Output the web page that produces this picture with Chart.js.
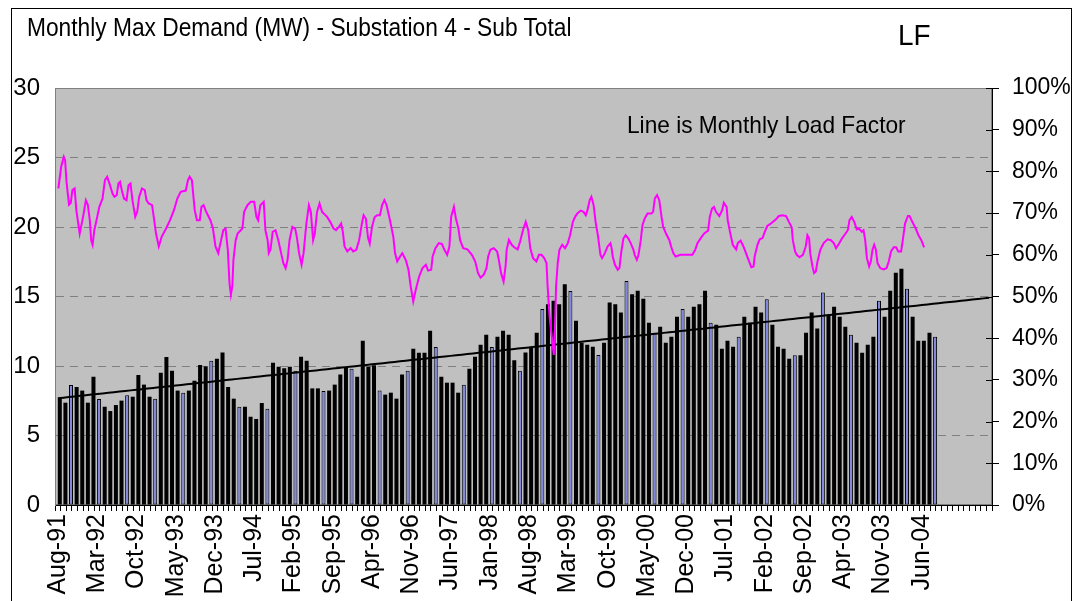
<!DOCTYPE html>
<html lang="en">
<head>
<meta charset="UTF-8">
<title>Monthly Max Demand (MW) - Substation 4 - Sub Total</title>
<script src="https://cdn.jsdelivr.net/npm/chart.js@4"></script>
<style>
  * { margin: 0; padding: 0; box-sizing: border-box; }
  html, body { width: 1075px; height: 601px; overflow: hidden; background: #fff; }
  .wrap { position: relative; width: 1075px; height: 601px; }
  canvas { position: absolute; left: 0; top: 0; }
  .frame {
    position: absolute; left: 11px; top: 8px; width: 1061px; height: 640px;
    border: 1px solid #000;
  }
  .txt {
    position: absolute; color: #000; white-space: nowrap; transform-origin: 0 0;
    font-family: 'Liberation Sans', Arial, sans-serif;
  }
  .title { left: 27px; top: 15px; font-size: 25px; line-height: 25px; transform: scaleX(0.91); }
  .lf { left: 898px; top: 20px; font-size: 30px; line-height: 30px; transform: scaleX(0.93); }
  .note { left: 627px; top: 113px; font-size: 24px; line-height: 24px; transform: scaleX(0.945); }
</style>
</head>
<body>
<div class="wrap">
  <canvas id="chart" width="1075" height="601"></canvas>
  <div class="frame"></div>
  <div class="txt title">Monthly Max Demand (MW) - Substation 4 - Sub Total</div>
  <div class="txt lf">LF</div>
  <div class="txt note">Line is Monthly Load Factor</div>
</div>
<script>
// months with data (Aug-91 .. Aug-04)
const months = [
  'Aug-91','Sep-91','Oct-91','Nov-91','Dec-91',
  'Jan-92','Feb-92','Mar-92','Apr-92','May-92','Jun-92','Jul-92','Aug-92','Sep-92','Oct-92','Nov-92','Dec-92',
  'Jan-93','Feb-93','Mar-93','Apr-93','May-93','Jun-93','Jul-93','Aug-93','Sep-93','Oct-93','Nov-93','Dec-93',
  'Jan-94','Feb-94','Mar-94','Apr-94','May-94','Jun-94','Jul-94','Aug-94','Sep-94','Oct-94','Nov-94','Dec-94',
  'Jan-95','Feb-95','Mar-95','Apr-95','May-95','Jun-95','Jul-95','Aug-95','Sep-95','Oct-95','Nov-95','Dec-95',
  'Jan-96','Feb-96','Mar-96','Apr-96','May-96','Jun-96','Jul-96','Aug-96','Sep-96','Oct-96','Nov-96','Dec-96',
  'Jan-97','Feb-97','Mar-97','Apr-97','May-97','Jun-97','Jul-97','Aug-97','Sep-97','Oct-97','Nov-97','Dec-97',
  'Jan-98','Feb-98','Mar-98','Apr-98','May-98','Jun-98','Jul-98','Aug-98','Sep-98','Oct-98','Nov-98','Dec-98',
  'Jan-99','Feb-99','Mar-99','Apr-99','May-99','Jun-99','Jul-99','Aug-99','Sep-99','Oct-99','Nov-99','Dec-99',
  'Jan-00','Feb-00','Mar-00','Apr-00','May-00','Jun-00','Jul-00','Aug-00','Sep-00','Oct-00','Nov-00','Dec-00',
  'Jan-01','Feb-01','Mar-01','Apr-01','May-01','Jun-01','Jul-01','Aug-01','Sep-01','Oct-01','Nov-01','Dec-01',
  'Jan-02','Feb-02','Mar-02','Apr-02','May-02','Jun-02','Jul-02','Aug-02','Sep-02','Oct-02','Nov-02','Dec-02',
  'Jan-03','Feb-03','Mar-03','Apr-03','May-03','Jun-03','Jul-03','Aug-03','Sep-03','Oct-03','Nov-03','Dec-03',
  'Jan-04','Feb-04','Mar-04','Apr-04','May-04','Jun-04','Jul-04','Aug-04'
];
// empty slots the trend line is forecast into
const forecastSlots = 10;

// monthly max demand, MW
const demandMW = [
  7.65, 7.36, 8.63, 8.49, 8.23, 7.36, 9.23, 7.63, 7.07, 6.76, 7.19, 7.51, 7.89,
  7.79, 9.35, 8.66, 7.79, 7.65, 9.52, 10.65, 9.66, 8.23, 8.08, 8.23, 8.94, 10.07,
  9.98, 10.38, 10.53, 10.98, 8.49, 7.65, 7.07, 7.07, 6.35, 6.19, 7.34, 6.93, 10.24,
  9.95, 9.83, 9.95, 9.66, 10.67, 10.38, 8.39, 8.39, 8.20, 8.23, 8.66, 9.38, 9.95,
  9.81, 9.23, 11.82, 9.95, 10.05, 8.23, 7.94, 8.08, 7.65, 9.38, 9.66, 11.25, 10.96,
  10.96, 12.54, 11.37, 9.23, 8.80, 8.80, 8.08, 8.66, 9.81, 10.67, 11.53, 12.25, 11.37, 12.11,
  12.54, 12.25, 10.41, 9.66, 10.98, 11.39, 12.40, 14.10, 14.44, 14.70, 14.44, 15.88, 15.40,
  13.26, 11.68, 11.53, 11.39, 10.79, 11.68, 14.56, 14.44, 13.84, 16.12, 15.16, 15.42, 14.84,
  13.12, 12.40, 12.83, 11.68, 12.11, 13.55, 14.10, 13.55, 14.27, 14.44, 15.42, 13.12, 12.97,
  11.25, 11.82, 11.39, 12.11, 13.55, 13.12, 14.27, 13.84, 14.80, 12.97, 11.39, 11.25, 10.53,
  10.77, 10.77, 12.40, 13.84, 12.69, 15.28, 13.69, 14.27, 13.55, 12.83, 12.25, 11.68, 10.96,
  11.53, 12.11, 14.70, 13.55, 15.42, 16.71, 17.00, 15.56, 13.55, 11.82, 11.82, 12.40, 12.11
];

// load factor line: [month index from Aug-91, percent]
const loadFactor = [
  [0.1,75.9],[0.6,81.1],[1.07,83.5],[1.3,82.7],[1.55,77.5],[2.0,72.0],[2.3,72.4],[2.6,75.5],[3.0,75.9],
  [3.3,70.7],[3.9,65.1],[4.5,69.1],[5.0,73.1],[5.35,72.0],[5.7,68.3],[5.95,63.5],[6.2,62.4],[6.5,65.9],
  [6.9,68.3],[7.4,71.5],[7.97,73.5],[8.4,77.9],[8.8,78.7],[9.3,76.7],[9.75,74.7],[10.1,73.9],[10.5,74.3],
  [10.8,77.1],[11.1,77.5],[11.4,75.5],[11.8,73.5],[12.25,73.1],[12.6,76.7],[12.96,77.1],[13.3,73.1],
  [13.8,69.1],[14.15,70.3],[14.5,73.9],[15.0,75.9],[15.5,75.5],[15.8,73.1],[16.2,72.3],[16.8,71.9],
  [17.1,69.1],[17.5,65.1],[18.0,62.0],[18.5,64.3],[19.3,66.3],[20.0,68.3],[20.7,70.7],[21.3,73.5],
  [21.9,75.1],[22.8,75.4],[23.2,77.9],[23.5,78.7],[23.9,77.9],[24.4,70.7],[24.8,68.3],[25.3,68.3],
  [25.6,71.5],[25.98,71.9],[26.45,70.3],[27.2,68.3],[27.65,66.3],[28.1,62.0],[28.6,60.4],[29.1,63.5],
  [29.5,65.9],[29.9,66.3],[30.3,61.2],[30.6,53.2],[30.85,50.4],[31.1,52.4],[31.3,58.8],[31.7,63.5],
  [32.05,65.1],[32.9,66.3],[33.2,70.3],[33.8,71.9],[34.4,72.7],[35.0,72.7],[35.4,69.1],[35.7,68.3],
  [36.1,71.9],[36.7,72.7],[37.0,65.9],[37.4,63.5],[37.6,60.4],[37.9,61.2],[38.3,65.5],[38.8,65.9],
  [39.3,63.5],[39.8,60.4],[40.2,58.0],[40.6,56.8],[40.95,58.8],[41.3,63.5],[41.8,66.7],[42.3,66.3],
  [42.6,64.3],[43.0,60.4],[43.45,57.6],[43.8,60.4],[44.3,67.5],[44.75,71.9],[45.1,70.3],[45.5,63.5],
  [45.8,65.1],[46.2,70.3],[46.65,72.3],[47.1,70.3],[48.0,69.1],[48.55,67.9],[49.15,66.3],[49.6,65.9],
  [50.1,66.7],[50.5,67.5],[50.8,65.5],[51.1,62.0],[51.6,60.8],[52.2,61.6],[52.65,60.8],[53.2,61.2],
  [53.7,63.5],[54.2,67.5],[54.5,69.5],[54.9,68.7],[55.3,64.0],[55.6,62.7],[56.0,66.7],[56.45,69.0],
  [56.9,69.5],[57.4,69.5],[57.8,71.9],[58.2,73.1],[58.6,71.9],[59.2,68.3],[59.8,64.3],[60.1,60.4],
  [60.5,58.4],[61.0,59.6],[61.4,60.4],[62.0,58.8],[62.5,56.4],[62.9,52.4],[63.35,48.8],[63.8,51.6],
  [64.4,54.8],[65.0,56.8],[65.6,57.6],[66.0,56.2],[66.55,56.4],[66.8,59.6],[67.3,61.6],[67.9,62.8],
  [68.45,62.6],[68.9,61.2],[69.4,60.0],[69.8,62.0],[70.1,69.1],[70.6,71.5],[70.95,68.7],[71.4,66.3],
  [71.7,63.5],[72.25,61.6],[73.0,61.3],[73.8,60.0],[74.4,58.4],[74.9,55.6],[75.35,54.5],[75.9,55.2],
  [76.4,56.8],[76.7,59.6],[77.1,61.2],[77.7,61.6],[78.3,60.8],[78.6,58.8],[79.0,55.6],[79.45,53.6],
  [79.8,57.2],[80.0,61.2],[80.4,63.6],[80.9,62.4],[81.35,61.8],[81.95,61.3],[82.4,63.2],[82.9,65.9],
  [83.4,67.9],[83.85,65.9],[84.2,61.6],[84.7,59.2],[85.3,58.4],[85.75,60.0],[86.2,60.0],[86.7,59.2],
  [87.1,58.0],[87.3,52.4],[87.65,45.2],[88.1,39.6],[88.4,36.0],[88.6,42.0],[88.8,52.4],[89.1,58.0],
  [89.4,61.2],[89.9,62.4],[90.4,61.6],[90.9,62.8],[91.3,64.7],[91.8,67.9],[92.2,69.1],[92.6,69.9],
  [93.2,70.6],[93.7,70.3],[94.1,69.5],[94.4,70.7],[94.8,73.1],[95.1,73.9],[95.5,71.9],[95.85,67.9],
  [96.3,64.3],[96.7,60.0],[97.0,59.2],[97.5,60.4],[97.99,62.0],[98.5,62.8],[98.7,61.6],[98.9,59.6],
  [99.3,57.6],[99.8,56.4],[100.1,56.8],[100.4,60.4],[100.8,63.9],[101.2,64.7],[101.7,63.9],[102.1,62.8],
  [102.6,61.2],[102.8,60.0],[103.2,58.8],[103.5,60.0],[103.9,63.5],[104.2,67.1],[104.6,68.7],[105.1,69.9],
  [105.8,69.9],[106.1,70.3],[106.4,73.5],[106.8,74.3],[107.2,73.1],[107.6,69.1],[107.9,66.7],[108.4,65.1],
  [109.0,63.5],[109.3,62.0],[109.7,60.4],[110.1,59.6],[111.0,60.0],[112.2,60.0],[113.1,60.0],[113.6,61.2],
  [114.0,62.8],[114.6,64.0],[115.2,65.1],[115.9,65.8],[116.2,69.1],[116.6,71.1],[116.95,71.5],[117.3,70.3],
  [117.9,69.3],[118.4,70.7],[118.7,72.5],[119.2,71.5],[119.4,68.3],[119.8,65.5],[120.3,62.4],[120.9,61.3],
  [121.2,62.8],[121.7,63.4],[122.2,62.0],[122.65,60.4],[123.1,58.8],[123.6,57.0],[124.0,57.2],[124.2,59.6],
  [124.7,62.4],[125.1,63.7],[125.6,64.0],[126.0,65.5],[126.45,66.9],[127.0,67.4],[128.0,68.5],[128.5,69.3],
  [129.2,69.5],[129.8,69.3],[130.3,67.9],[130.8,66.6],[131.0,63.5],[131.4,60.8],[131.7,60.0],[132.2,59.4],
  [132.8,60.0],[133.3,62.0],[133.6,64.7],[133.9,64.0],[134.1,60.4],[134.5,57.2],[134.8,55.6],[135.1,56.0],
  [135.4,58.4],[135.9,61.2],[136.5,62.8],[137.2,63.7],[137.8,63.5],[138.3,62.8],[138.7,61.6],[139.2,62.6],
  [139.8,64.0],[140.4,65.1],[140.8,65.9],[141.1,68.3],[141.5,69.1],[141.95,67.9],[142.4,66.1],[142.8,66.3],
  [143.3,65.5],[143.6,65.9],[143.9,63.5],[144.2,59.2],[144.6,57.2],[144.9,58.4],[145.2,61.2],[145.5,62.4],
  [145.8,61.2],[146.1,58.0],[146.6,56.8],[147.2,56.5],[147.7,56.8],[148.1,58.4],[148.5,60.8],[149.0,61.8],
  [149.4,61.8],[149.8,60.8],[150.3,60.8],[150.6,63.5],[151.0,67.5],[151.5,69.3],[151.8,69.3],[152.3,67.9],
  [152.9,66.3],[153.4,64.7],[153.9,63.5],[154.4,61.8]
];

const categories = months.concat(new Array(forecastSlots).fill(''));

// linear trend of demand, extended over the forecast slots
let sx = 0, sy = 0, sxy = 0, sxx = 0;
demandMW.forEach((v, i) => { sx += i; sy += v; sxy += i * v; sxx += i * i; });
const n = demandMW.length;
const slope = (n * sxy - sx * sy) / (n * sxx - sx * sx);
const intercept = (sy - slope * sx) / n;
const trend = categories.map((_, i) => intercept + slope * i);

// the narrow bars only show their blue fill now and then
const showsBlue = demandMW.map((_, i) => (i < 85 ? i % 5 === 2 : i % 5 === 1));
const barFill = showsBlue.map(b => (b ? '#8088e0' : '#000'));
const barBorder = showsBlue.map(b => (b ? 1 : 0));

const SANS = "'Liberation Sans', Arial, sans-serif";

// silver plot area with grey frame
const plotBg = {
  id: 'plotBg',
  beforeDraw(chart) {
    const { ctx, chartArea: a } = chart;
    ctx.save();
    ctx.fillStyle = '#c0c0c0';
    ctx.fillRect(a.left, a.top, a.right - a.left, a.bottom - a.top);
    ctx.strokeStyle = '#808080';
    ctx.lineWidth = 1;
    ctx.strokeRect(a.left + 0.5, a.top + 0.5, a.right - a.left - 1, a.bottom - a.top - 1);
    ctx.restore();
  },
  // right-axis tick marks cross the axis line
  afterDraw(chart) {
    const { ctx, chartArea: a, scales } = chart;
    const s = scales.y1;
    ctx.save();
    ctx.strokeStyle = '#000';
    ctx.lineWidth = 1;
    ctx.beginPath();
    s.ticks.forEach(t => {
      const y = Math.round(s.getPixelForValue(t.value)) + 0.5;
      ctx.moveTo(a.right - 6, y);
      ctx.lineTo(a.right, y);
    });
    ctx.stroke();
    ctx.restore();
  }
};

new Chart(document.getElementById('chart'), {
  data: {
    labels: categories,
    datasets: [
      {
        type: 'line',
        label: 'Load Factor',
        data: loadFactor.map(p => ({ x: p[0], y: p[1] })),
        xAxisID: 'xLF',
        yAxisID: 'y1',
        borderColor: '#ff00ff',
        borderWidth: 2,
        pointRadius: 0,
        tension: 0,
        order: 1
      },
      {
        type: 'line',
        label: 'Trend',
        data: trend,
        xAxisID: 'x',
        yAxisID: 'y',
        borderColor: '#000',
        borderWidth: 2,
        pointRadius: 0,
        order: 2
      },
      {
        type: 'bar',
        label: 'Max Demand (MW)',
        data: demandMW,
        xAxisID: 'x',
        yAxisID: 'y',
        backgroundColor: barFill,
        borderColor: '#000',
        borderWidth: barBorder,
        borderSkipped: false,
        inflateAmount: 0,
        barThickness: 4,
        order: 3
      }
    ]
  },
  options: {
    responsive: false,
    animation: false,
    devicePixelRatio: 1,
    layout: { padding: { top: 88, left: 0, right: 0, bottom: 0 } },
    plugins: {
      legend: { display: false },
      tooltip: { enabled: false },
      title: { display: false }
    },
    scales: {
      x: {
        type: 'category',
        position: 'bottom',
        offset: true,
        afterFit(s) { s.height = 96; },
        grid: { offset: true, drawOnChartArea: false, drawTicks: true, tickLength: 6, color: '#000' },
        border: { color: '#000', width: 1 },
        ticks: {
          autoSkip: false,
          minRotation: 90,
          maxRotation: 90,
          padding: 3,
          color: '#000',
          font: { family: SANS, size: 25 },
          callback: (v, i) => (i % 7 === 0 ? categories[i] : '')
        }
      },
      xLF: {
        type: 'linear',
        display: false,
        min: -0.5,
        max: categories.length - 0.5
      },
      y: {
        position: 'left',
        min: 0,
        max: 30,
        afterFit(s) { s.width = 55; },
        grid: {
          drawTicks: false,
          color: c => (c.tick.value === 0 || c.tick.value === 30 ? 'rgba(0,0,0,0)' : '#808080')
        },
        border: { color: '#808080', dash: [8, 6] },
        ticks: {
          stepSize: 5,
          padding: 15,
          color: '#000',
          font: { family: SANS, size: 24 }
        }
      },
      y1: {
        position: 'right',
        min: 0,
        max: 100,
        afterFit(s) { s.width = 83; },
        grid: { drawOnChartArea: false, drawTicks: true, tickLength: 7, color: '#000' },
        border: { color: '#000' },
        ticks: {
          stepSize: 10,
          padding: 13,
          color: '#000',
          font: { family: SANS, size: 23 },
          callback: v => v + '%'
        }
      }
    }
  },
  plugins: [plotBg]
});
</script>
</body>
</html>
